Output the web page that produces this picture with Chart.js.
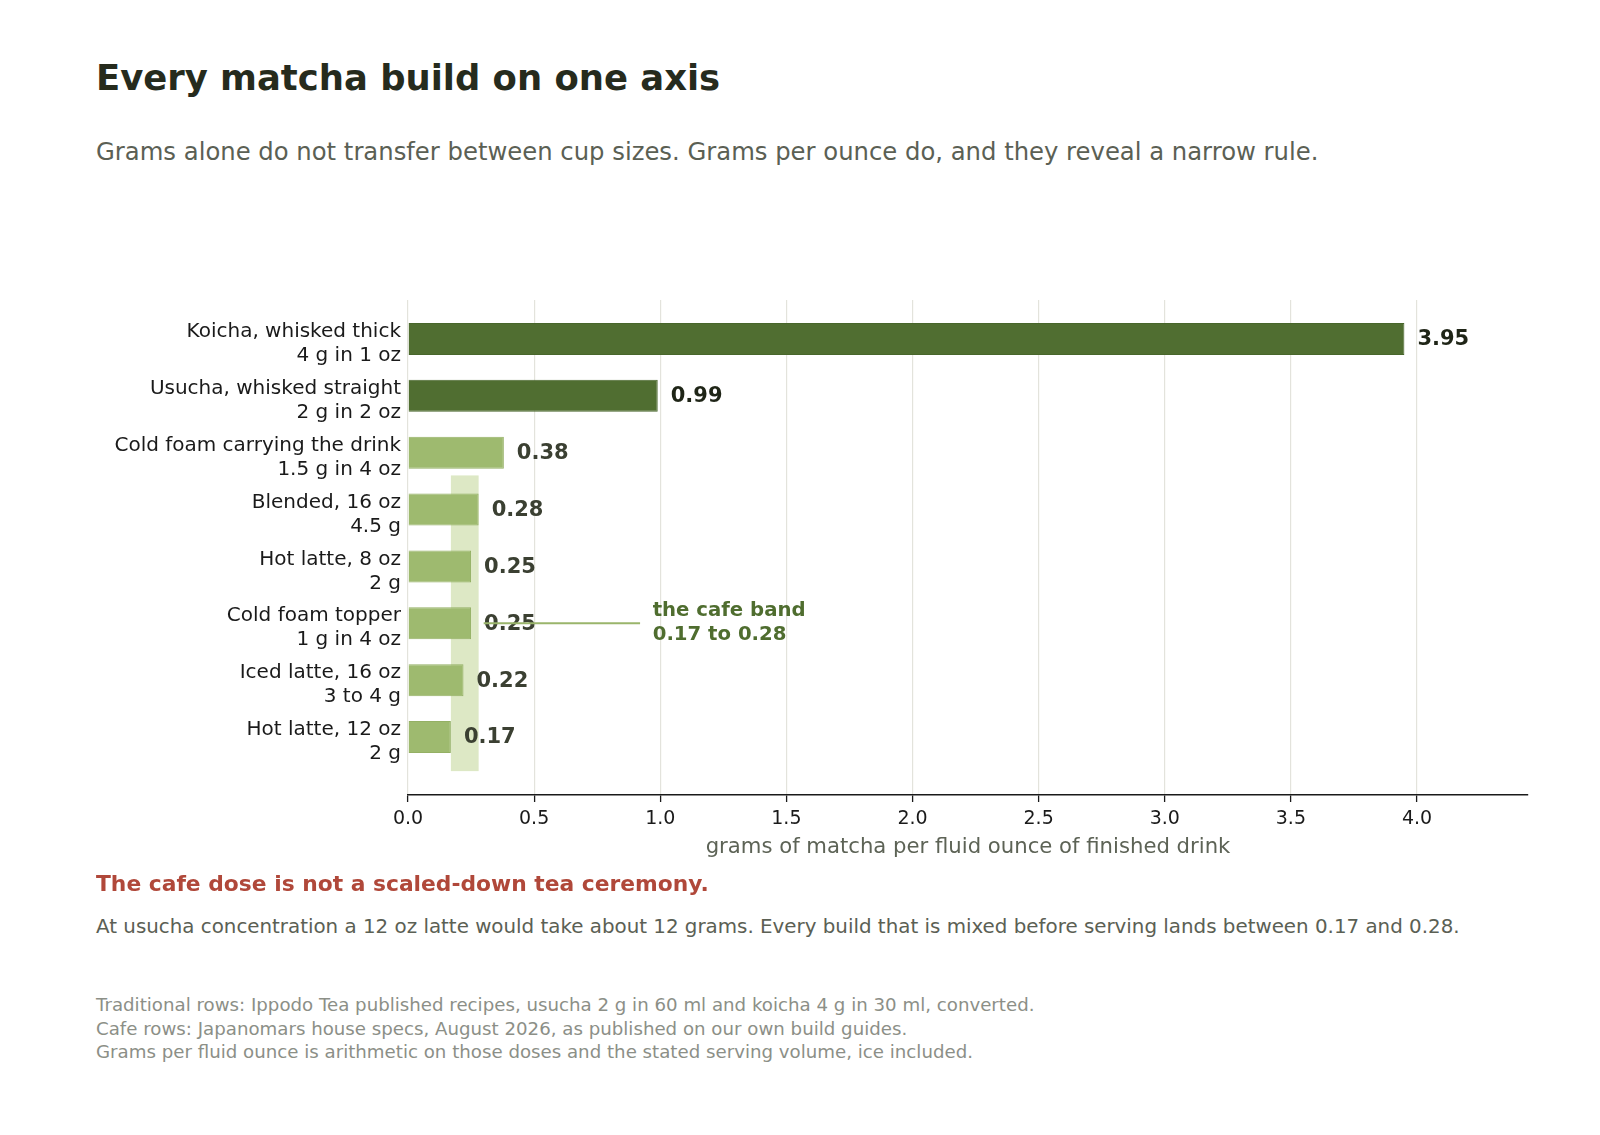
<!DOCTYPE html>
<html>
<head>
<meta charset="utf-8">
<script src="https://cdn.jsdelivr.net/npm/chart.js@4.4.1/dist/chart.umd.min.js"></script>
<style>
  html, body { margin: 0; padding: 0; background: #fff; }
  body { width: 1600px; height: 1135px; position: relative; overflow: hidden; font-family: "DejaVu Sans", sans-serif; }
  .txt { position: absolute; left: 96px; line-height: 1; white-space: nowrap; }
  #title { top: 60px; font-size: 35.4px; font-weight: bold; color: #262b1d; }
  #subtitle { top: 140px; font-size: 24.3px; color: #5b6054; }
  #takeaway { top: 873px; font-size: 21.8px; font-weight: bold; color: #b0483a; }
  #note { top: 917px; font-size: 19.85px; color: #5b6054; }
  #source { top: 996px; font-size: 18.2px; color: #8c8f87; line-height: 23.5px; margin-top: -3px; }
  #wrap { position: absolute; left: 0; top: 0; width: 1600px; height: 880px; }
</style>
</head>
<body>
<div id="title" class="txt">Every matcha build on one axis</div>
<div id="subtitle" class="txt">Grams alone do not transfer between cup sizes. Grams per ounce do, and they reveal a narrow rule.</div>
<div id="wrap"><canvas id="grafico" width="1600" height="880"></canvas></div>
<div id="takeaway" class="txt">The cafe dose is not a scaled-down tea ceremony.</div>
<div id="note" class="txt">At usucha concentration a 12 oz latte would take about 12 grams. Every build that is mixed before serving lands between 0.17 and 0.28.</div>
<div id="source" class="txt">Traditional rows: Ippodo Tea published recipes, usucha 2 g in 60 ml and koicha 4 g in 30 ml, converted.<br>Cafe rows: Japanomars house specs, August 2026, as published on our own build guides.<br>Grams per fluid ounce is arithmetic on those doses and the stated serving volume, ice included.</div>
<script>
// dados do grafico
var bebidas = ['Koicha, whisked thick', 'Usucha, whisked straight', 'Cold foam carrying the drink', 'Blended, 16 oz', 'Hot latte, 8 oz', 'Cold foam topper', 'Iced latte, 16 oz', 'Hot latte, 12 oz'];
var doses = ['4 g in 1 oz', '2 g in 2 oz', '1.5 g in 4 oz', '4.5 g', '2 g', '1 g in 4 oz', '3 to 4 g', '2 g'];
var gramasPorOnca = [3.95, 0.99, 0.38, 0.28, 0.25, 0.25, 0.22, 0.17];
var tradicional = [true, true, false, false, false, false, false, false];
var xTicks = [0, 0.5, 1.0, 1.5, 2.0, 2.5, 3.0, 3.5, 4.0];
var faixaCafe = [0.17, 0.28];
var faixaLinhas = [2.4, 7.6];
var notaLinha = 5;
var notaX = [0.30, 0.92, 0.97];
var notaTexto = ['the cafe band', '0.17 to 0.28'];

var corEscura = '#506e31';
var corClara = '#9eba6f';

var pontos = [];
for (var i in gramasPorOnca) {
    pontos.push({x: gramasPorOnca[i], y: Number(i)});
}

var faixaPlugin = {
    id: 'faixa',
    beforeDatasetsDraw: function(chart) {
        var ctx = chart.ctx, xs = chart.scales.x, ys = chart.scales.y;
        var x1 = xs.getPixelForValue(faixaCafe[0]), x2 = xs.getPixelForValue(faixaCafe[1]);
        var y1 = ys.getPixelForValue(faixaLinhas[0]), y2 = ys.getPixelForValue(faixaLinhas[1]);
        ctx.save();
        ctx.fillStyle = '#dde8c5';
        ctx.fillRect(x1, y1, x2 - x1, y2 - y1);
        ctx.restore();
    },
    afterDatasetsDraw: function(chart) {
        var ctx = chart.ctx, xs = chart.scales.x, ys = chart.scales.y;
        var meta = chart.getDatasetMeta(0);
        ctx.save();
        ctx.font = 'bold 21px "DejaVu Sans"';
        ctx.textBaseline = 'middle';
        ctx.textAlign = 'left';
        meta.data.forEach(function(bar, i) {
            ctx.fillStyle = tradicional[i] ? '#1f2517' : '#3b4032';
            ctx.fillText(gramasPorOnca[i].toFixed(2), bar.x + 13, bar.y + 1);
        });
        // linha da nota
        var ly = ys.getPixelForValue(notaLinha);
        ctx.strokeStyle = '#9ab56b';
        ctx.lineWidth = 2;
        ctx.beginPath();
        ctx.moveTo(xs.getPixelForValue(notaX[0]), ly);
        ctx.lineTo(xs.getPixelForValue(notaX[1]), ly);
        ctx.stroke();
        ctx.fillStyle = '#4f6d2f';
        ctx.font = 'bold 19.7px "DejaVu Sans"';
        var tx = xs.getPixelForValue(notaX[2]);
        ctx.fillText(notaTexto[0], tx, ly - 12);
        ctx.fillText(notaTexto[1], tx, ly + 12);
        ctx.restore();
    }
};

var ctx = document.getElementById('grafico');
var barGraph = new Chart(ctx, {
    type: 'bar',
    data: {
        datasets: [{
            data: pontos,
            backgroundColor: tradicional.map(function(t) { return t ? corEscura : corClara; }),
            borderColor: tradicional.map(function(t) { return t ? '#48662b' : '#94b064'; }),
            borderWidth: 1,
            barPercentage: 0.5625,
            categoryPercentage: 1
        }]
    },
    plugins: [faixaPlugin],
    options: {
        indexAxis: 'y',
        responsive: false,
        animation: false,
        layout: { padding: { left: 0, right: 72, top: 300, bottom: 0 } },
        plugins: { legend: { display: false }, tooltip: { enabled: false } },
        scales: {
            x: {
                type: 'linear',
                min: 0,
                max: 4.44,
                afterFit: function(scale) { scale.height = 85; },
                afterBuildTicks: function(scale) {
                    scale.ticks = xTicks.map(function(v) { return {value: v}; });
                },
                grid: { color: '#e3e3dc', lineWidth: 1.2, drawTicks: true, tickLength: 7, tickColor: '#1a1a1a', tickWidth: 1.3 },
                border: { display: true, color: '#1a1a1a', width: 1.5 },
                ticks: {
                    color: '#1a1a1a',
                    font: { family: 'DejaVu Sans', size: 19 },
                    padding: 6,
                    callback: function(v) { return Number(v).toFixed(1); }
                },
                title: {
                    display: true,
                    text: 'grams of matcha per fluid ounce of finished drink',
                    color: '#5d6356',
                    font: { family: 'DejaVu Sans', size: 21.2 },
                    padding: { top: 0, bottom: 20 }
                }
            },
            y: {
                type: 'linear',
                reverse: true,
                offset: false,
                min: -0.685,
                max: 8.02,
                afterFit: function(scale) { scale.width = 408; },
                afterBuildTicks: function(scale) {
                    scale.ticks = bebidas.map(function(b, i) { return {value: i}; });
                },
                grid: { display: false, drawTicks: false, offset: false },
                border: { display: false },
                ticks: {
                    color: '#1a1a1a',
                    padding: 7,
                    labelOffset: 5,
                    font: { family: 'DejaVu Sans', size: 20, lineHeight: 1.2 },
                    callback: function(v) { return [bebidas[v], doses[v]]; }
                }
            }
        }
    }
});
</script>
</body>
</html>
